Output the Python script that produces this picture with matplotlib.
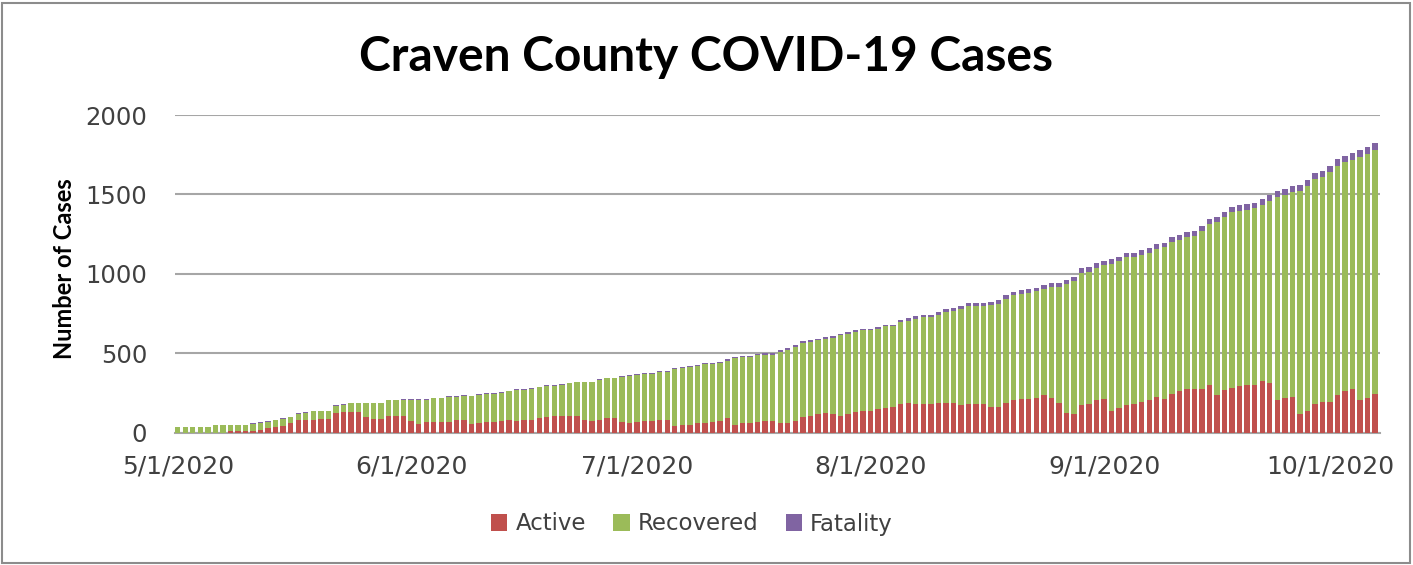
import matplotlib
matplotlib.use("Agg")
import matplotlib.pyplot as plt
import matplotlib.dates as mdates
from matplotlib.patches import Rectangle
from matplotlib.ticker import FuncFormatter, MultipleLocator
import numpy as np
import pandas as pd

start_date = "2020-05-01"
end_date = "2020-10-07"

active = [0, 0, 0, 0, 0, 0, 0, 10, 10, 10,
          10, 19, 32, 33, 43, 59, 81, 81, 82, 88,
          88, 122, 129, 129, 129, 96, 89, 89, 106, 106,
          106, 71, 57, 65, 65, 65, 65, 82, 82, 55,
          59, 65, 65, 73, 82, 73, 82, 82, 90, 99,
          107, 107, 107, 107, 82, 73, 82, 90, 90, 65,
          59, 65, 73, 73, 82, 82, 42, 50, 50, 59,
          59, 65, 73, 90, 50, 59, 59, 65, 73, 73,
          59, 59, 73, 99, 107, 115, 122, 115, 107, 115,
          130, 138, 138, 147, 155, 164, 180, 187, 180, 180,
          180, 187, 187, 187, 172, 180, 180, 180, 164, 164,
          187, 204, 212, 212, 220, 235, 220, 187, 122, 115,
          172, 180, 204, 212, 138, 155, 172, 180, 195, 204,
          227, 212, 243, 260, 275, 275, 275, 300, 235, 268,
          283, 292, 300, 300, 323, 315, 204, 220, 227, 115,
          138, 180, 195, 195, 235, 260, 275, 204, 220, 243]

recovered = [36, 36, 36, 36, 36, 46, 46, 36, 36, 36,
             46, 43, 38, 46, 44, 37, 38, 46, 53, 47,
             47, 47, 48, 57, 57, 90, 97, 97, 97, 97,
             103, 137, 151, 143, 151, 151, 160, 143, 151, 175,
             178, 179, 179, 179, 178, 196, 187, 195, 196, 195,
             187, 195, 204, 210, 235, 244, 252, 252, 252, 286,
             300, 300, 299, 299, 298, 298, 357, 355, 364, 363,
             371, 365, 366, 364, 420, 418, 418, 422, 418, 418,
             449, 464, 467, 466, 466, 467, 468, 483, 506, 507,
             506, 507, 507, 506, 515, 506, 515, 517, 538, 547,
             547, 557, 573, 582, 607, 616, 616, 616, 641, 649,
             654, 660, 660, 668, 669, 670, 700, 733, 815, 837,
             835, 834, 835, 844, 925, 925, 931, 923, 925, 930,
             931, 954, 956, 954, 956, 964, 994, 1011, 1090, 1089,
             1105, 1105, 1105, 1112, 1113, 1146, 1279, 1278, 1290, 1408,
             1415, 1415, 1416, 1445, 1445, 1443, 1443, 1531, 1536, 1538]

fatality = [2, 2, 2, 2, 2, 2, 2, 2, 2, 2,
            3, 3, 3, 3, 3, 3, 3, 3, 3, 3,
            3, 3, 3, 3, 3, 3, 3, 3, 3, 3,
            3, 4, 4, 4, 4, 4, 4, 4, 4, 4,
            4, 4, 4, 4, 4, 4, 4, 4, 4, 4,
            4, 4, 4, 4, 4, 4, 4, 4, 4, 4,
            4, 6, 6, 6, 6, 6, 6, 6, 6, 6,
            6, 6, 6, 8, 8, 8, 8, 8, 8, 8,
            10, 10, 10, 10, 10, 10, 10, 10, 10, 10,
            10, 10, 10, 10, 10, 10, 16, 16, 16, 16,
            16, 16, 16, 16, 20, 20, 20, 20, 20, 20,
            24, 24, 24, 24, 24, 24, 24, 24, 24, 26,
            27, 27, 27, 27, 28, 28, 28, 28, 28, 28,
            30, 30, 30, 30, 30, 30, 32, 32, 32, 32,
            34, 34, 34, 34, 35, 35, 36, 36, 36, 36,
            38, 38, 38, 40, 40, 42, 42, 42, 44, 44]

series_names = ["Active", "Recovered", "Fatality"]
colors = ["#C0504D", "#9BBB59", "#8064A2"]
title = "Craven County COVID-19 Cases"
ylabel = "Number of Cases"

dates = pd.date_range(start_date, end_date, freq="D")
active_a = np.array(active)
recovered_a = np.array(recovered)
fatality_a = np.array(fatality)

W, H = 1413, 565
fig = plt.figure(figsize=(W / 100, H / 100), dpi=100)
fig.patch.set_facecolor("white")
ax = fig.add_axes([175 / W, 1 - 432.7 / H, 1205 / W, 317.7 / H])

bw = 0.72
ax.bar(dates, active_a, width=bw, color=colors[0], label=series_names[0], zorder=3)
ax.bar(dates, recovered_a, width=bw, bottom=active_a, color=colors[1], label=series_names[1], zorder=3)
ax.bar(dates, fatality_a, width=bw, bottom=active_a + recovered_a, color=colors[2], label=series_names[2], zorder=3)

ax.set_ylim(0, 2000)
ax.yaxis.set_major_locator(MultipleLocator(500))
ax.set_xlim(dates[0] - pd.Timedelta(hours=0.36 * 24), dates[-1] + pd.Timedelta(hours=0.64 * 24))
ax.xaxis.set_major_locator(mdates.MonthLocator())
ax.xaxis.set_major_formatter(FuncFormatter(lambda v, p: (lambda d: f"{d.month}/{d.day}/{d.year}")(mdates.num2date(v))))

ax.grid(axis="y", color="#A6A6A6", linewidth=1.5, zorder=0)
for s in ["left", "right", "top"]:
    ax.spines[s].set_visible(False)
ax.spines["bottom"].set_color("#A6A6A6")
ax.spines["bottom"].set_linewidth(1.5)
ax.tick_params(axis="y", length=0, labelsize=17.5, labelcolor="#404040", pad=20)
ax.tick_params(axis="x", length=0, labelsize=18, labelcolor="#404040", pad=16)

ax.set_ylabel(ylabel, fontsize=17, fontweight="bold", family="Lato")
ax.yaxis.label.set_va("center")
ax.yaxis.set_label_coords((64 - 175) / 1205, 0.515)

fig.text(706 / W, 1 - 71 / H, title, ha="center", va="baseline",
         fontsize=34.5, fontweight="bold", family="Lato", color="black")

handles, labels = ax.get_legend_handles_labels()
leg = fig.legend(handles, labels, loc="center", bbox_to_anchor=(692 / W, 1 - 524 / H),
                 ncol=3, frameon=False, fontsize=16.5, handlelength=0.7, handleheight=0.7,
                 handletextpad=0.35, columnspacing=1.2, labelcolor="#404040")

fig.patches.append(Rectangle((2 / W, 2 / H), (W - 5) / W, (H - 5) / H, transform=fig.transFigure,
                             fill=False, edgecolor="#8C8C8C", linewidth=1.5))

fig.savefig("out.png", dpi=100, facecolor="white")
